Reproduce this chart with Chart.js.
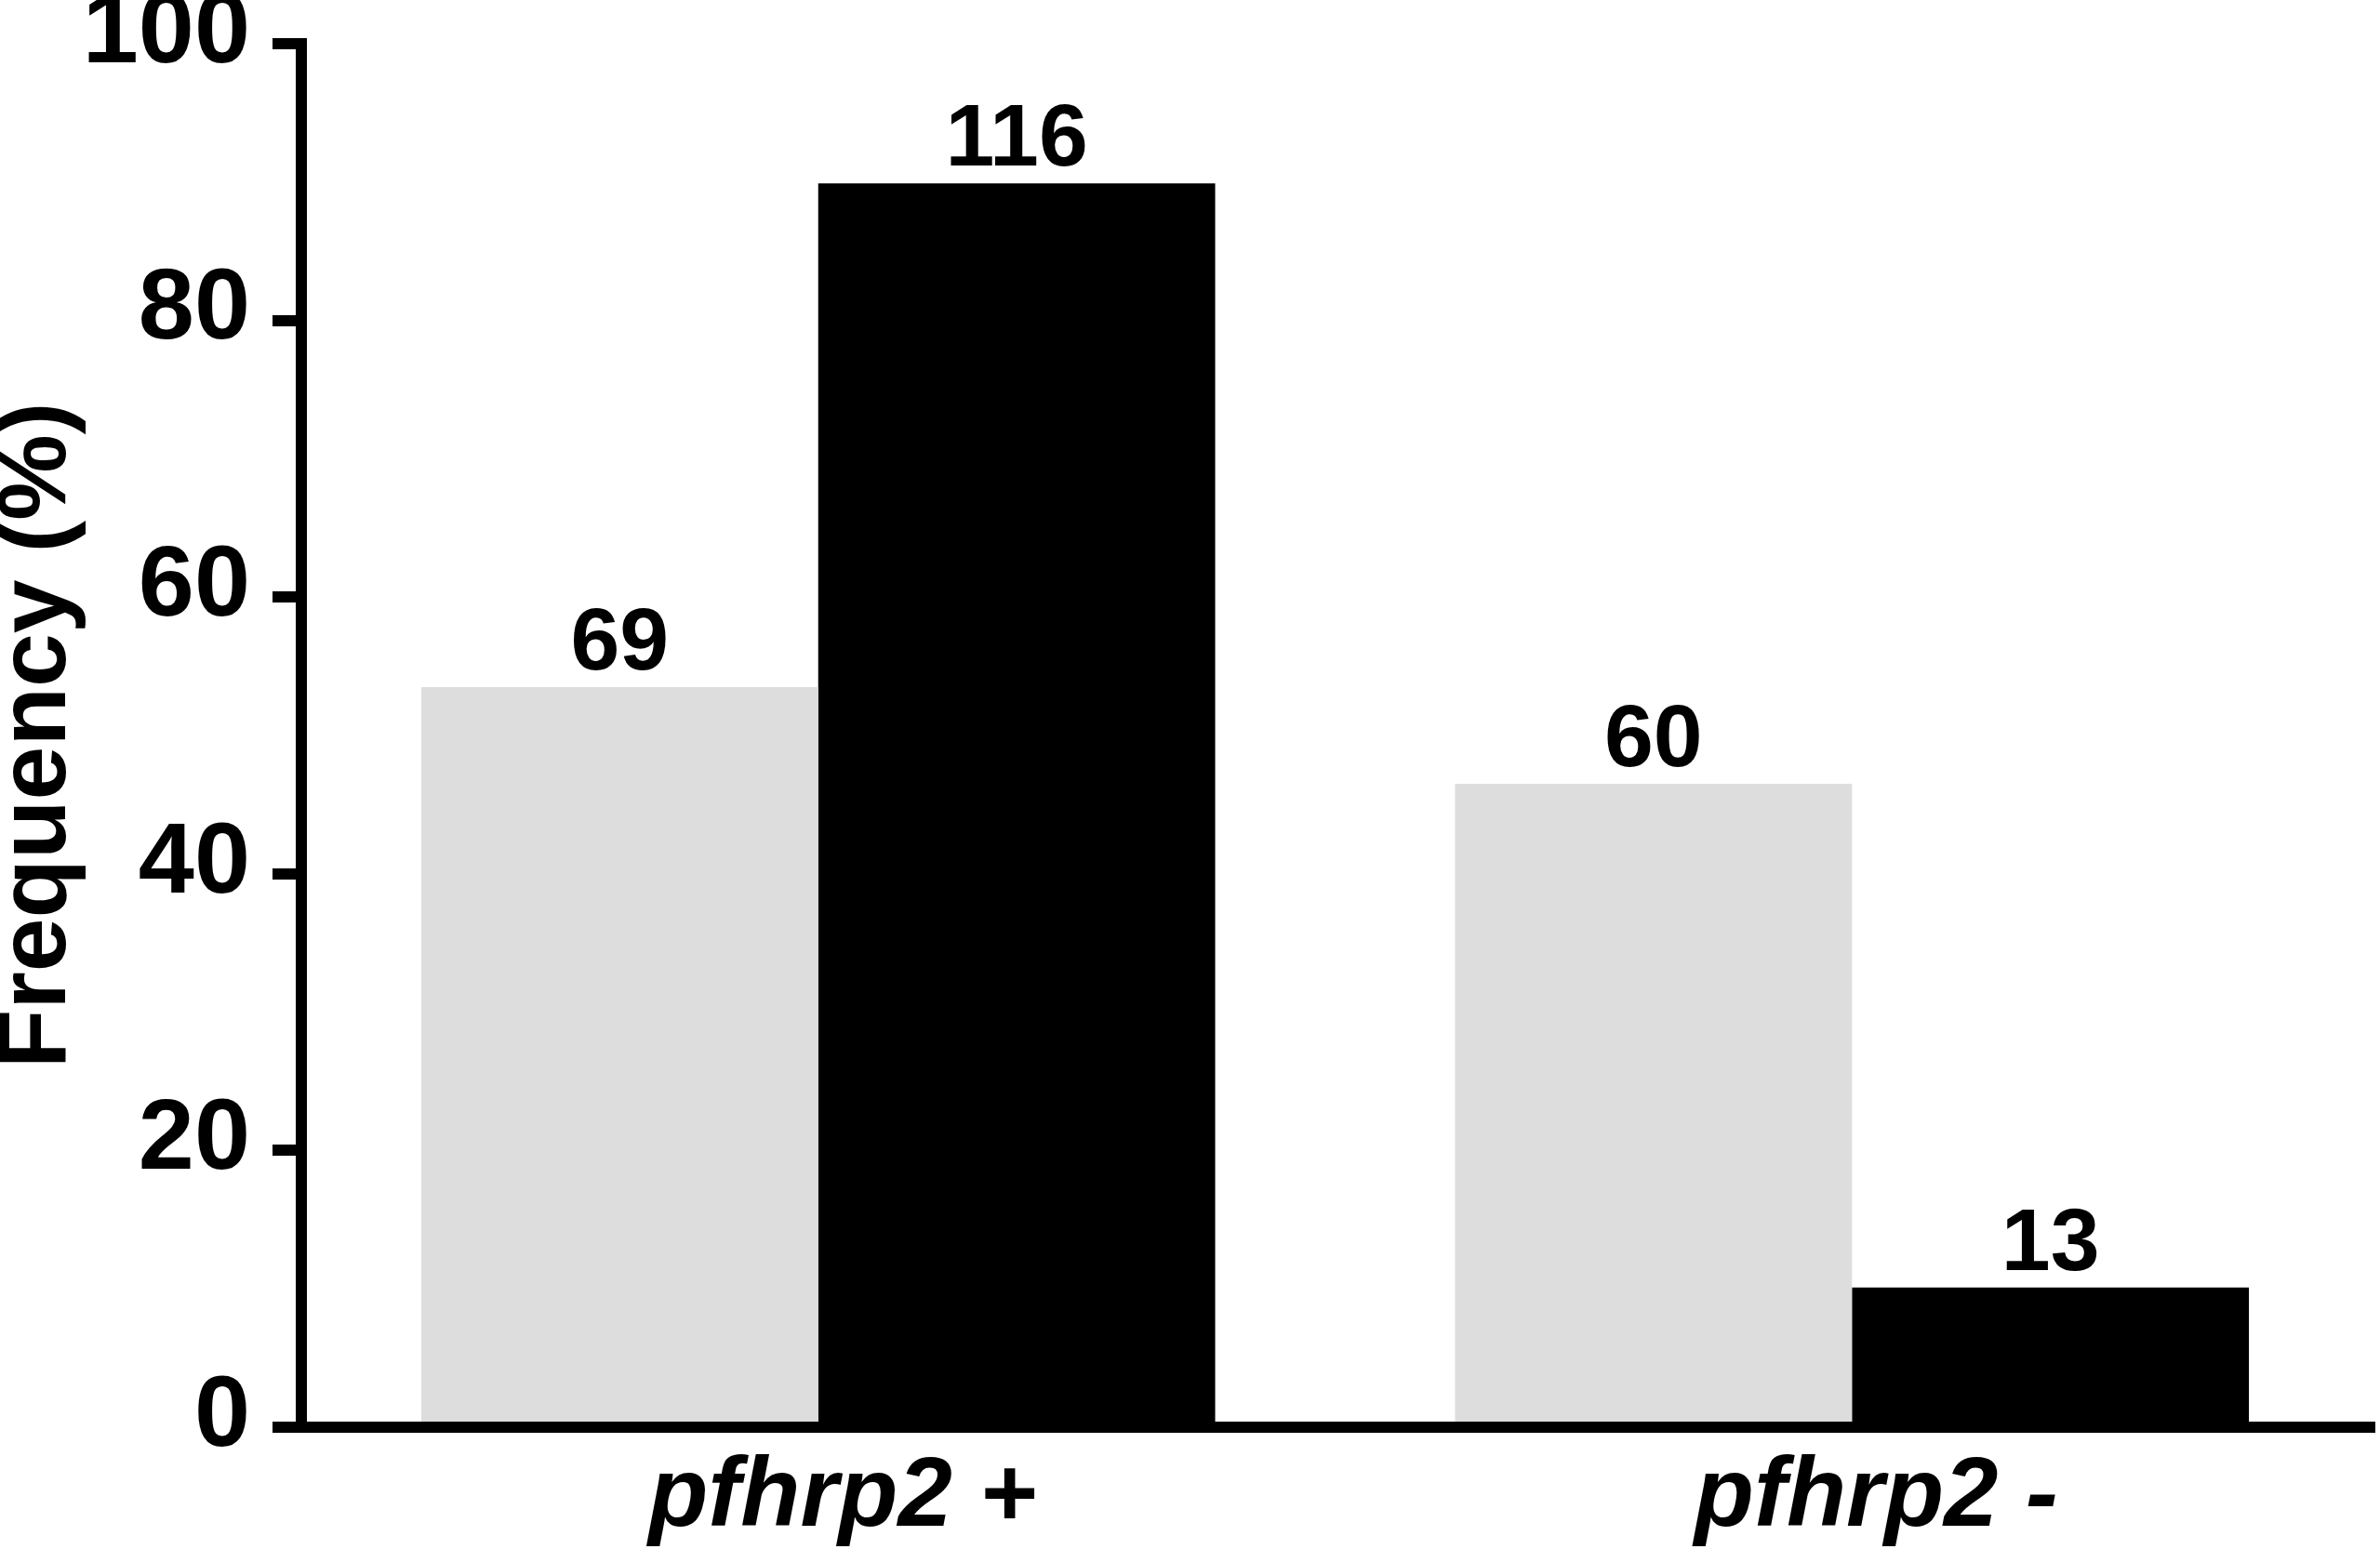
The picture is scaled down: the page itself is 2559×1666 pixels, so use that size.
<!DOCTYPE html>
<html>
<head>
<meta charset="utf-8">
<script src="https://cdn.jsdelivr.net/npm/chart.js@4.4.1/dist/chart.umd.min.js"></script>
<style>
  html, body { margin: 0; padding: 0; background: #ffffff; }
  #wrap { width: 2559px; height: 1666px; }
</style>
</head>
<body>
<div id="wrap"><canvas id="c" width="2559" height="1666"></canvas></div>
<script>
// Data
const categories = ['pfhrp2 +', 'pfhrp2 -'];
const seriesA = [53.5, 46.5];   // light grey bars, frequency %
const seriesB = [89.9, 10.1];   // black bars, frequency %
const countsA = ['69', '60'];   // labels over grey bars
const countsB = ['116', '13'];  // labels over black bars
const yTicks = [0, 20, 40, 60, 80, 100];
const yTitle = 'Frequency (%)';

const FONT = "'Liberation Sans', Arial, Helvetica, sans-serif";
const countLabels = [countsA, countsB];

const valueLabels = {
  id: 'valueLabels',
  afterDatasetsDraw(chart) {
    const ctx = chart.ctx;
    ctx.save();
    ctx.font = 'bold 95px ' + FONT;
    ctx.fillStyle = '#000000';
    ctx.textAlign = 'center';
    ctx.textBaseline = 'alphabetic';
    chart.data.datasets.forEach((ds, di) => {
      const meta = chart.getDatasetMeta(di);
      meta.data.forEach((el, i) => {
        ctx.fillText(countLabels[di][i], el.x, el.y - 19);
      });
    });
    ctx.restore();
  }
};

new Chart(document.getElementById('c'), {
  type: 'bar',
  data: {
    labels: categories,
    datasets: [
      { data: seriesA, backgroundColor: '#dddddd', borderWidth: 0,
        barPercentage: 1.0, categoryPercentage: 0.768 },
      { data: seriesB, backgroundColor: '#000000', borderWidth: 0,
        barPercentage: 1.0, categoryPercentage: 0.768 }
    ]
  },
  options: {
    responsive: false,
    animation: false,
    devicePixelRatio: 1,
    layout: { padding: { top: 47, right: 12, left: 0, bottom: 0 } },
    plugins: {
      legend: { display: false },
      tooltip: { enabled: false }
    },
    scales: {
      x: {
        z: 1,
        grid: { display: false, drawTicks: false, lineWidth: 13 },
        border: { display: true, color: '#000000', width: 12 },
        ticks: {
          color: '#000000',
          padding: 14,
          labelOffset: 26,
          font: { family: FONT, size: 105, weight: 'bold', style: 'italic', lineHeight: 1.2 }
        },
        afterFit(scale) { scale.height = 131; scale.paddingLeft = 0; scale.paddingRight = 0; }
      },
      y: {
        z: 1,
        min: 0,
        max: 100,
        afterBuildTicks(scale) { scale.ticks = yTicks.map(v => ({ value: v })); },
        grid: {
          display: true,
          drawOnChartArea: false,
          drawTicks: true,
          tickLength: 31,
          tickWidth: 12,
          tickColor: '#000000',
          lineWidth: 12,
          color: '#000000'
        },
        border: { display: true, color: '#000000', width: 12 },
        ticks: {
          color: '#000000',
          padding: 24,
          labelOffset: -10,
          font: { family: FONT, size: 108, weight: 'bold', lineHeight: 0.6 }
        },
        title: {
          display: true,
          text: yTitle,
          color: '#000000',
          padding: 0,
          font: { family: FONT, size: 104, weight: 'bold', lineHeight: 0.79 }
        },
        afterFit(scale) { scale.width = 324; scale.paddingTop = 0; scale.paddingBottom = 0; }
      }
    }
  },
  plugins: [valueLabels]
});
</script>
</body>
</html>
